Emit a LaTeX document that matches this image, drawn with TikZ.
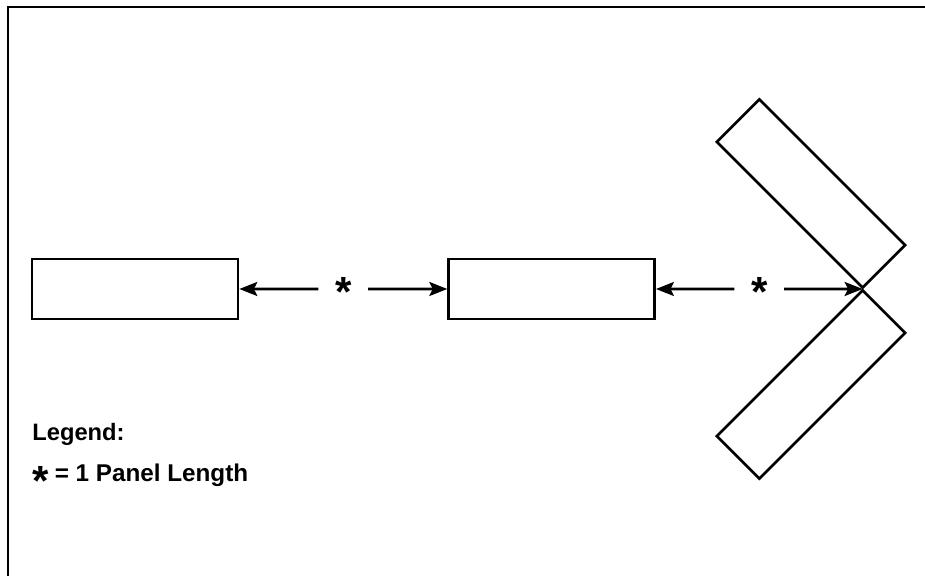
\documentclass[tikz,border=0pt]{standalone}
\usepackage{fontspec}
\setmainfont{Liberation Sans}
\usetikzlibrary{positioning, arrows.meta, calc}

\newcommand{\panelstar}[1]{\raisebox{#1}[0pt][0pt]{\fontsize{24}{24}\selectfont\bfseries *}}

\begin{document}
\begin{tikzpicture}[
		>={Stealth[length=3.6mm, width=2.8mm, inset=0.7mm]},
		panel/.style={draw, line width=1.5pt, minimum width=4.12cm, minimum height=1.2cm, inner sep=0pt},
		gapstar/.style={minimum width=0.98cm, inner sep=0pt},
		dim/.style={->, line width=1.5pt},
		legend_font/.style={font=\fontsize{13.5}{16}\selectfont\bfseries, anchor=base west, inner sep=0pt}
		]
		\useasboundingbox (0,0) rectangle (18.5,11.52);
		
		% --- FRAME ---
		\draw[line width=1.3pt] (0.16,0) -- (0.16,11.38) -- (18.5,11.38);
		
		% --- STRAIGHT PANELS ---
		\node[panel] (p1) at (2.70, 5.74) {};
		\node[panel, right=4.16cm of p1] (p2) {};
		
		% --- ANGLED PANELS ---
		\node[panel, rotate=-45] (up) at (16.22, 7.65) {};
		\node[panel, rotate=45] (low) at (16.22, 3.83) {};
		\coordinate (apex) at (p2.east -| up.south east);
		
		% --- PANEL LENGTH MARKS ---
		\node[gapstar] (s1) at ($(p1.east)!0.5!(p2.west)$) {\panelstar{-10pt}};
		\node[gapstar] (s2) at ($(p2.east)!0.5!(apex)$) {\panelstar{-10pt}};
		\draw[dim] (s1) -- (p1);
		\draw[dim] (s1) -- (p2);
		\draw[dim] (s2) -- (p2);
		\draw[dim] (s2) -- (apex);
		
		% --- LEGEND ---
		\node[legend_font] (leg) at (0.64, 2.70) {Legend:};
		\node[legend_font, font=\fontsize{13.8}{16}\selectfont\bfseries] (key) at (0.64, 1.88) {\panelstar{-7.7pt}\hspace{0.25em}= 1 Panel Length};
		
	\end{tikzpicture}
\end{document}
